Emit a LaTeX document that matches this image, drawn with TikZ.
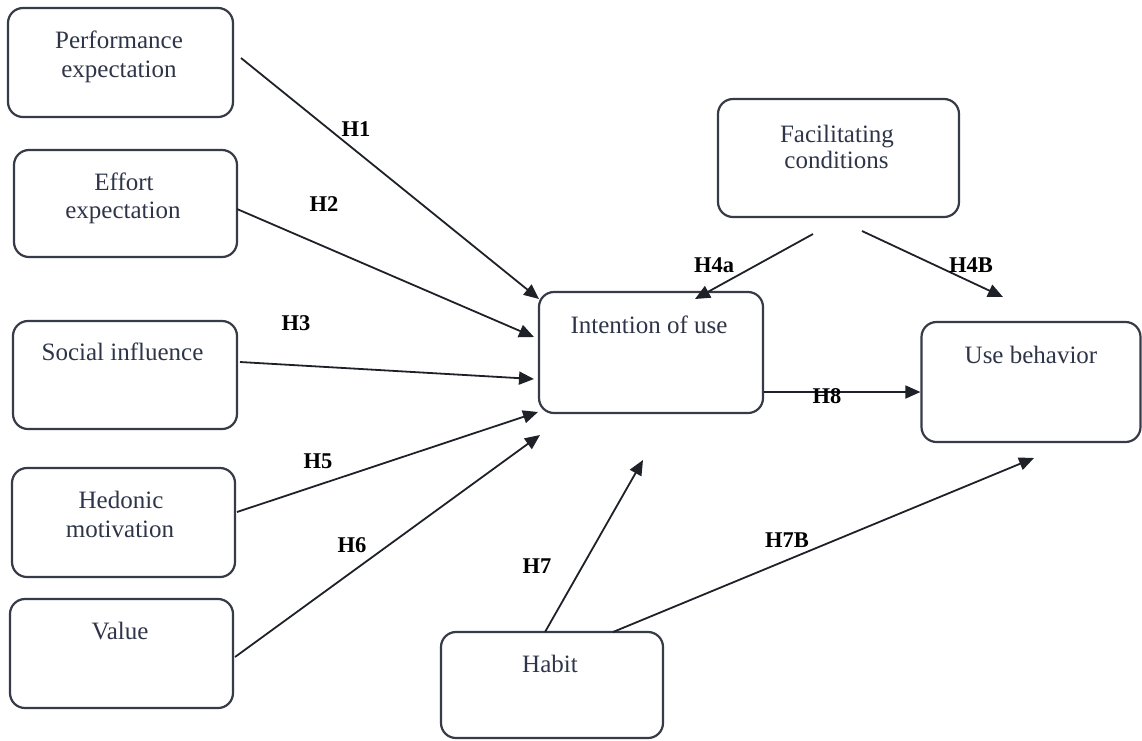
\documentclass[tikz,border=0pt]{standalone}
\usepackage{fontspec}
\setmainfont{Liberation Serif}
\usetikzlibrary{arrows.meta}
\definecolor{txt}{HTML}{2E3548}
\definecolor{ln}{HTML}{1E2128}
\definecolor{bd}{HTML}{363B47}
\tikzset{
  box/.style={draw=bd, line width=2.2pt, rounded corners=15pt, inner sep=0pt},
  lbl/.style={anchor=base, inner sep=0pt, text=txt, font=\fontsize{25}{29}\selectfont},
  hyp/.style={anchor=base, inner sep=0pt, text=black, font=\fontsize{22.5}{26}\selectfont\bfseries},
  arr/.style={draw=ln, line width=1.8pt, -{Triangle[length=15pt,width=13pt]}}
}
\begin{document}
\begin{tikzpicture}[x=1pt,y=-1pt]
\useasboundingbox (0,0) rectangle (1142,740);
% boxes
\node[box, minimum width=225pt, minimum height=109pt] (pe) at (120.5,62.5) {};
\node[box, minimum width=223pt, minimum height=107pt] (ee) at (125.5,203.5) {};
\node[box, minimum width=224pt, minimum height=108pt] (si) at (125,375) {};
\node[box, minimum width=223pt, minimum height=109pt] (hm) at (123.5,522.5) {};
\node[box, minimum width=223pt, minimum height=109pt] (va) at (121.5,653.5) {};
\node[box, minimum width=224pt, minimum height=121pt] (iu) at (651,352.5) {};
\node[box, minimum width=241pt, minimum height=118pt] (fc) at (838.5,158) {};
\node[box, minimum width=219pt, minimum height=120pt] (ub) at (1031,382) {};
\node[box, minimum width=222pt, minimum height=106pt] (hb) at (552,685) {};
% texts
\node[lbl] (pe1) at (119,48) {Performance};
\node[lbl] (pe2) at (119,77) {expectation};
\node[lbl] (ee1) at (124,190) {Effort};
\node[lbl] (ee2) at (123,218) {expectation};
\node[lbl] (si1) at (122.5,360) {Social influence};
\node[lbl] (hm1) at (121,508) {Hedonic};
\node[lbl] (hm2) at (120,537) {motivation};
\node[lbl] (va1) at (120,639) {Value};
\node[lbl] (iu1) at (649,333) {Intention of use};
\node[lbl] (fc1) at (837,142) {Facilitating};
\node[lbl] (fc2) at (836.5,168) {conditions};
\node[lbl] (ub1) at (1031,363) {Use behavior};
\node[lbl] (hb1) at (550,672) {Habit};
% connector end points
\coordinate (s1) at (241,58);   \coordinate (e1) at (539,299);
\coordinate (s2) at (237,209);  \coordinate (e2) at (534,337);
\coordinate (s3) at (240,362);  \coordinate (e3) at (534,379);
\coordinate (s5) at (237,512);  \coordinate (e5) at (538,412);
\coordinate (s6) at (235,657);  \coordinate (e6) at (540,435);
\coordinate (s4a) at (813,234); \coordinate (e4a) at (695,299);
\coordinate (s4b) at (862,231); \coordinate (e4b) at (1003,297);
\coordinate (s8) at (iu.east |- 0,392); \coordinate (e8) at (ub.west |- 0,392);
\coordinate (s7) at (545,632);  \coordinate (e7) at (643,460);
\coordinate (s7b) at (613,632); \coordinate (e7b) at (1034,458);
% connectors
\draw[arr] (s1) -- (e1);
\draw[arr] (s2) -- (e2);
\draw[arr] (s3) -- (e3);
\draw[arr] (s5) -- (e5);
\draw[arr] (s6) -- (e6);
\draw[arr] (s4a) -- (e4a);
\draw[arr] (s4b) -- (e4b);
\draw[arr] (s8) -- (e8);
\draw[arr] (s7) -- (e7);
\draw[arr] (s7b) -- (e7b);
% hypothesis labels
\node[hyp] (h1) at (356,136) {H1};
\node[hyp] (h2) at (324,211) {H2};
\node[hyp] (h3) at (296,330) {H3};
\node[hyp] (h5) at (318,468) {H5};
\node[hyp] (h6) at (352,552) {H6};
\node[hyp] (h7) at (537,573) {H7};
\node[hyp] (h7b) at (787,547) {H7B};
\node[hyp] (h4a) at (714,272) {H4a};
\node[hyp] (h4b) at (971,272) {H4B};
\node[hyp] (h8) at (827,403) {H8};
\end{tikzpicture}
\end{document}
